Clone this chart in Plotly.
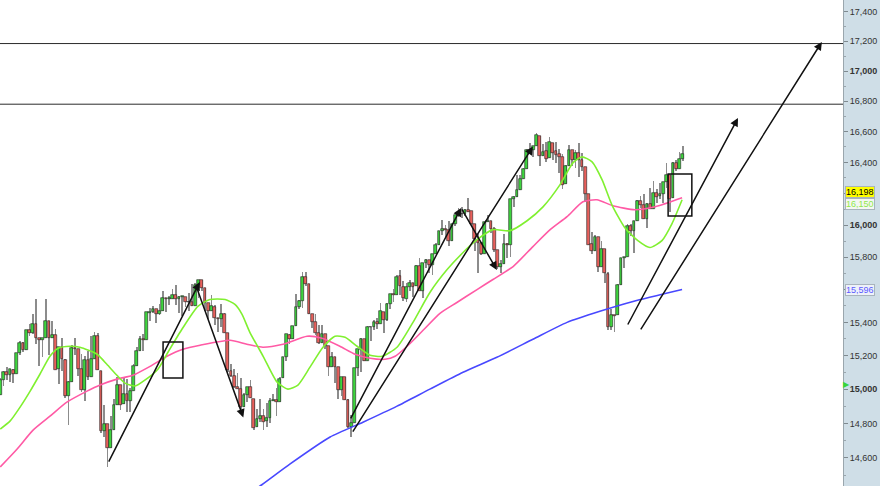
import math
import plotly.graph_objects as go

# ---------------- data (daily candles, index 0 = first visible bar) ----------------
OPEN = [14968,15055,15104,15083,15117,15092,15214,15275,15234,15353,
        15335,15388,15304,15293,15305,15406,15304,15323,15118,15253,
        15176,14961,15041,15248,15237,15122,14996,15176,15071,15180,
        15318,15110,14758,14797,14660,14761,14910,15023,14911,14974,
        14930,14990,15137,15226,15300,15292,15459,15464,15484,15452,
        15470,15549,15544,15545,15569,15542,15555,15557,15522,15521,
        15500,15628,15657,15611,15517,15471,15496,15424,15420,15450,
        15336,15111,15081,15011,15003,14898,14964,15011,14945,14777,
        14825,14841,14812,14834,14931,14937,14923,15064,15191,15326,
        15301,15376,15495,15530,15677,15636,15451,15402,15335,15273,
        15328,15256,15130,15192,15132,14996,15071,14935,14778,14804,
        15125,15236,15300,15169,15372,15372,15400,15393,15466,15414,
        15510,15570,15569,15681,15618,15545,15616,15638,15619,15747,
        15594,15761,15782,15750,15821,15876,15962,15976,15968,15902,
        16010,16065,16073,16073,16097,16087,16009,15910,15890,15822,
        16020,16026,15973,15844,15740,15755,15885,15875,16168,16179,
        16221,16295,16358,16480,16478,16504,16572,16441,16474,16429,
        16527,16472,16453,16434,16260,16375,16483,16417,16460,16414,
        16373,16197,15880,15838,15928,15739,15848,15698,15372,15443,
        15443,15630,15794,15802,15995,15962,16028,16152,16130,16041,
        16133,16104,16207,16182,16196,16273,16321,16169,16396,16360,
        16422]
HIGH = [15068,15106,15133,15119,15119,15218,15290,15279,15355,15392,
        15453,15542,15304,15305,15543,15406,15408,15357,15254,15306,
        15177,15049,15262,15308,15237,15211,15199,15227,15319,15340,
        15338,15110,14908,14797,14842,14941,15072,15023,15068,15059,
        15010,15147,15253,15319,15332,15461,15486,15500,15484,15509,
        15590,15549,15561,15605,15630,15561,15559,15557,15580,15634,
        15638,15658,15657,15611,15517,15567,15503,15424,15512,15459,
        15336,15148,15118,15099,15067,14980,15011,15057,14945,14883,
        14940,14883,14919,14947,14975,15009,15073,15192,15327,15327,
        15377,15571,15538,15709,15709,15636,15451,15449,15382,15383,
        15328,15256,15222,15192,15133,15073,15071,14944,14851,15127,
        15238,15304,15300,15376,15372,15413,15426,15520,15466,15519,
        15574,15602,15690,15721,15654,15642,15656,15640,15751,15797,
        15764,15790,15782,15822,15891,15963,16030,16002,16028,16010,
        16065,16111,16114,16105,16174,16087,16009,15947,15890,16022,
        16065,16026,15990,15844,15781,15946,15886,16168,16188,16318,
        16318,16361,16484,16529,16504,16588,16573,16518,16532,16562,
        16528,16530,16490,16453,16384,16511,16483,16480,16526,16461,
        16373,16197,15958,15940,15928,15902,15848,15708,15481,15443,
        15632,15798,15803,16006,16009,16029,16161,16185,16197,16142,
        16236,16278,16232,16271,16275,16398,16321,16406,16418,16467,
        16505]
LOW = [14968,15019,15052,15043,15036,15092,15201,15222,15234,15318,
       15330,15272,15137,15191,15305,15203,15304,15115,15029,15110,
       14946,14792,15041,15206,15080,14981,14932,15056,15071,15179,
       15112,14745,14721,14551,14660,14761,14910,14881,14911,14867,
       14864,14987,15137,15226,15226,15292,15408,15454,15399,15446,
       15470,15460,15508,15543,15506,15459,15440,15493,15467,15500,
       15500,15551,15591,15467,15419,15471,15385,15340,15371,15337,
       15104,15072,15010,15003,14887,14898,14924,14946,14762,14777,
       14810,14760,14777,14800,14930,14843,14923,15064,15166,15270,
       15301,15376,15482,15490,15620,15448,15363,15325,15268,15273,
       15237,15081,15130,15039,14945,14960,14934,14776,14719,14804,
       15079,15100,15166,15169,15285,15353,15362,15393,15338,15406,
       15484,15525,15565,15567,15532,15522,15589,15556,15619,15589,
       15547,15735,15700,15690,15821,15876,15941,15925,15870,15902,
       15996,16051,16048,16058,16086,15992,15839,15703,15811,15822,
       16020,15953,15832,15729,15703,15755,15798,15800,16114,16179,
       16221,16295,16358,16464,16438,16504,16374,16440,16405,16429,
       16416,16398,16334,16230,16260,16375,16379,16363,16306,16348,
       16148,15873,15821,15838,15707,15739,15641,15356,15356,15340,
       15443,15630,15733,15802,15935,15825,16028,16107,16040,15983,
       16103,16104,16138,16164,16143,16234,16084,16169,16342,16360,
       16407]
CLOSE = [15056,15105,15083,15118,15092,15215,15276,15233,15354,15335,
         15388,15307,15295,15303,15409,15303,15325,15116,15254,15178,
         14961,15041,15248,15239,15122,14995,15176,15070,15180,15318,
         15112,14758,14799,14660,14760,14910,15024,14910,14975,14932,
         14989,15136,15225,15300,15292,15461,15464,15484,15452,15471,
         15549,15544,15546,15568,15542,15556,15559,15522,15521,15500,
         15628,15658,15612,15519,15471,15498,15426,15420,15451,15338,
         15112,15081,15011,15003,14898,14964,15011,14946,14776,14825,
         14841,14810,14834,14931,14937,14923,15063,15191,15327,15301,
         15376,15495,15530,15677,15637,15451,15401,15335,15273,15328,
         15258,15130,15192,15133,14996,15073,14936,14777,14803,15126,
         15237,15301,15168,15374,15372,15400,15392,15468,15413,15509,
         15570,15569,15680,15619,15546,15616,15639,15618,15747,15594,
         15762,15783,15751,15822,15876,15962,15976,15967,15901,16010,
         16065,16073,16073,16097,16086,16009,15915,15890,15822,16020,
         16026,15973,15844,15739,15755,15885,15875,16168,16179,16221,
         16295,16358,16480,16478,16504,16577,16441,16470,16425,16531,
         16463,16445,16437,16258,16374,16482,16417,16459,16414,16373,
         16197,15879,15838,15929,15739,15849,15699,15373,15445,15440,
         15629,15794,15802,15995,15964,16028,16154,16130,16041,16133,
         16103,16207,16180,16198,16273,16322,16168,16396,16360,16422,
         16453]

# moving averages (bar index, value)
GREEN_MA_IDX = [0,3,6.1,9.2,12.2,15.3,17.8,21.5,24.5,29.8,32.8,35.9,38.4,41.5,44.5,48.5,
                51.6,55.9,60.8,64.5,69.2,72.2,74.4,76.8,80.9,85.2,88.5,91.6,95.3,99.3,
                103,106.1,109.8,113.8,117.5,122.1,127,132.2,137.5,142.4,146.7,151.6,
                156.8,162.1,167,172.2,176.2,179,182.1,185.2,188.2,192.2,196.2,199.9,
                203.6,206.7,209.8]
GREEN_MA = [14767,14813,14895,14989,15089,15196,15244,15256,15250,15208,15148,15083,
            15036,15019,15054,15119,15220,15358,15497,15539,15539,15509,15449,15340,
            15196,15042,15001,15025,15131,15250,15316,15310,15256,15202,15196,15250,
            15400,15582,15723,15829,15909,15972,15965,16028,16116,16256,16397,16436,
            16404,16288,16129,15984,15903,15860,15903,16010,16161]
PINK_MA_IDX = [0,5.2,10.1,15.3,20.5,26.7,30.7,35.9,40.8,46.1,51.3,56.2,61.5,70.7,75.9,
               80.8,87,94.4,99,104.5,109.2,113.8,118.4,121.5,125.2,130.1,135.3,140.5,
               146.7,151.6,157.8,163.9,169.2,174.4,179.3,183.6,188.5,195.3,201.5,209.8]
PINK_MA = [14549,14652,14761,14842,14924,14989,15025,15060,15083,15136,15196,15238,
           15262,15292,15268,15250,15268,15316,15304,15256,15208,15184,15178,15196,
           15256,15352,15455,15521,15600,15662,15742,15866,15972,16054,16148,16161,
           16123,16098,16117,16174]
BLUE_MA_IDX = [76.8,80.5,89.2,101.5,111.6,122.1,132.2,142.4,152.8,163.9,174.4,184.5,
               194.7,209.8]
BLUE_MA = [14401,14447,14566,14721,14807,14901,15001,15101,15190,15298,15400,15467,
           15527,15600]

RESISTANCE = [17185, 16780]
TICKS = [14600, 14800, 15000, 15200, 15400, 15600, 15800, 16000, 16200, 16400,
         16600, 16800, 17000, 17200, 17400]
HIDDEN_TICK_LABELS = [15600, 16200]   # covered by the price tags in the original
MINOR_TICKS = [14500, 14700, 14900, 15100, 15300, 15500, 15700, 15900, 16100,
               16300, 16500, 16700, 16900, 17100, 17300]
# trend arrows: (from index, from value, to index, to value)
ARROWS = [(33.15, 14571, 61.4, 15647),
          (60.3, 15620, 74.8, 14835),
          (107.6, 14820, 141.8, 16109),
          (108.2, 14744, 163.9, 16503),
          (141.8, 16109, 152.8, 15721),
          (192.85, 15378, 227.0, 16689),
          (196.8, 15348, 252.8, 17196)]
# boxes: (index from, index to, value low, value high)
BOXES = [(50.1, 56.2, 15067, 15282), (205.5, 212.8, 16058, 16326)]
# axis price tags: (text, value, text colour, background)
TAGS = [("16,150", 16135, "#8fe84a", "#f4f7f2"),
        ("16,198", 16210, "#000000", "#ffff00"),
        ("15,596", 15596, "#5a5aff", "#eef1fa")]
Y_RANGE = (14440, 17482)
X_RANGE = (-0.077, 259.31)

# ---------------- figure ----------------
n = len(CLOSE)
idx = list(range(n))
body_lo = [min(o, c) for o, c in zip(OPEN, CLOSE)]
body_len = [abs(c - o) for o, c in zip(OPEN, CLOSE)]
wick_len = [h - l for h, l in zip(HIGH, LOW)]

GREEN_BODY = "#3ed43e"
RED_BODY = "#e8605c"
body_col = [GREEN_BODY if c >= o else RED_BODY for o, c in zip(OPEN, CLOSE)]

fig = go.Figure()
# wicks (thin bars, drawn first so the bodies cover them)
fig.add_trace(go.Bar(x=idx, y=wick_len, base=LOW, width=0.3,
                     marker=dict(color="#8c8c8c", line=dict(width=0)),
                     showlegend=False, hoverinfo="skip"))
# bodies
fig.add_trace(go.Bar(x=idx, y=body_len, base=body_lo, width=0.85,
                     marker=dict(color=body_col, line=dict(color="#202020", width=0.6)),
                     showlegend=False, hoverinfo="skip"))

fig.add_trace(go.Scatter(x=BLUE_MA_IDX, y=BLUE_MA, mode="lines",
                         line=dict(color="#4848ff", width=1.6, shape="spline", smoothing=0.6),
                         showlegend=False, hoverinfo="skip"))
fig.add_trace(go.Scatter(x=PINK_MA_IDX, y=PINK_MA, mode="lines",
                         line=dict(color="#ff5aa5", width=1.6, shape="spline", smoothing=0.6),
                         showlegend=False, hoverinfo="skip"))
fig.add_trace(go.Scatter(x=GREEN_MA_IDX, y=GREEN_MA, mode="lines",
                         line=dict(color="#80f030", width=1.6, shape="spline", smoothing=0.6),
                         showlegend=False, hoverinfo="skip"))

shapes = []
for v in RESISTANCE:
    shapes.append(dict(type="line", xref="paper", x0=0, x1=1, yref="y",
                       y0=v, y1=v, layer="above",
                       line=dict(color="#2a2a2a", width=1)))
for i0, i1, v0, v1 in BOXES:
    shapes.append(dict(type="rect", xref="x", yref="y", x0=i0, x1=i1,
                       y0=v0, y1=v1, layer="above",
                       line=dict(color="#111111", width=1.5)))

annotations = []
for i0, v0, i1, v1 in ARROWS:
    annotations.append(dict(x=i1, y=math.log10(v1), ax=i0, ay=math.log10(v0),
                            xref="x", yref="y", axref="x", ayref="y", text="",
                            showarrow=True, arrowhead=2, arrowsize=1.1,
                            arrowwidth=1.5, arrowcolor="#111111", standoff=0))
for txt, v, col, bg in TAGS:
    annotations.append(dict(x=1, xref="paper", xanchor="left", xshift=2,
                            y=math.log10(v), yref="y", yanchor="middle",
                            text=txt, showarrow=False,
                            font=dict(size=9, color=col, family="Liberation Sans, Arial"),
                            bgcolor=bg, bordercolor="#a8b4bc", borderwidth=1, borderpad=0))
annotations.append(dict(x=1, xref="paper", xanchor="left", xshift=-2,
                        y=math.log10(15030), yref="y", yanchor="middle",
                        text="▶", showarrow=False,
                        font=dict(size=8, color="#3ad43a")))

ticktext = []
for t in TICKS:
    if t in HIDDEN_TICK_LABELS:
        ticktext.append("")
    elif t % 1000 == 0:
        ticktext.append("<b>%s</b>" % f"{t:,}")
    else:
        ticktext.append(f"{t:,}")

fig.update_layout(
    width=880, height=486,
    margin=dict(l=0, r=37, t=0, b=0),
    paper_bgcolor="#cfdee7",
    plot_bgcolor="#ffffff",
    shapes=shapes, annotations=annotations,
    barmode="overlay", bargap=0,
    font=dict(family="Liberation Sans, Arial", size=9, color="#333333"),
    xaxis=dict(range=list(X_RANGE), showgrid=False, zeroline=False, showticklabels=False,
               ticks="", showline=False, fixedrange=True),
    yaxis=dict(type="log", side="right",
               range=[math.log10(Y_RANGE[0]), math.log10(Y_RANGE[1])],
               tickvals=TICKS, ticktext=ticktext, ticks="outside", ticklen=4,
               tickcolor="#7f8a90", showline=True, linecolor="#9aa6ad", linewidth=1,
               showgrid=False, zeroline=False,
               tickfont=dict(size=9, color="#333333", family="Liberation Sans, Arial"),
               minor=dict(tickvals=MINOR_TICKS, ticks="outside", ticklen=2, tickcolor="#9aa6ad")),
)

fig.write_html("out.html", config={"displayModeBar": False},
               post_script="document.body.style.margin='0';")
